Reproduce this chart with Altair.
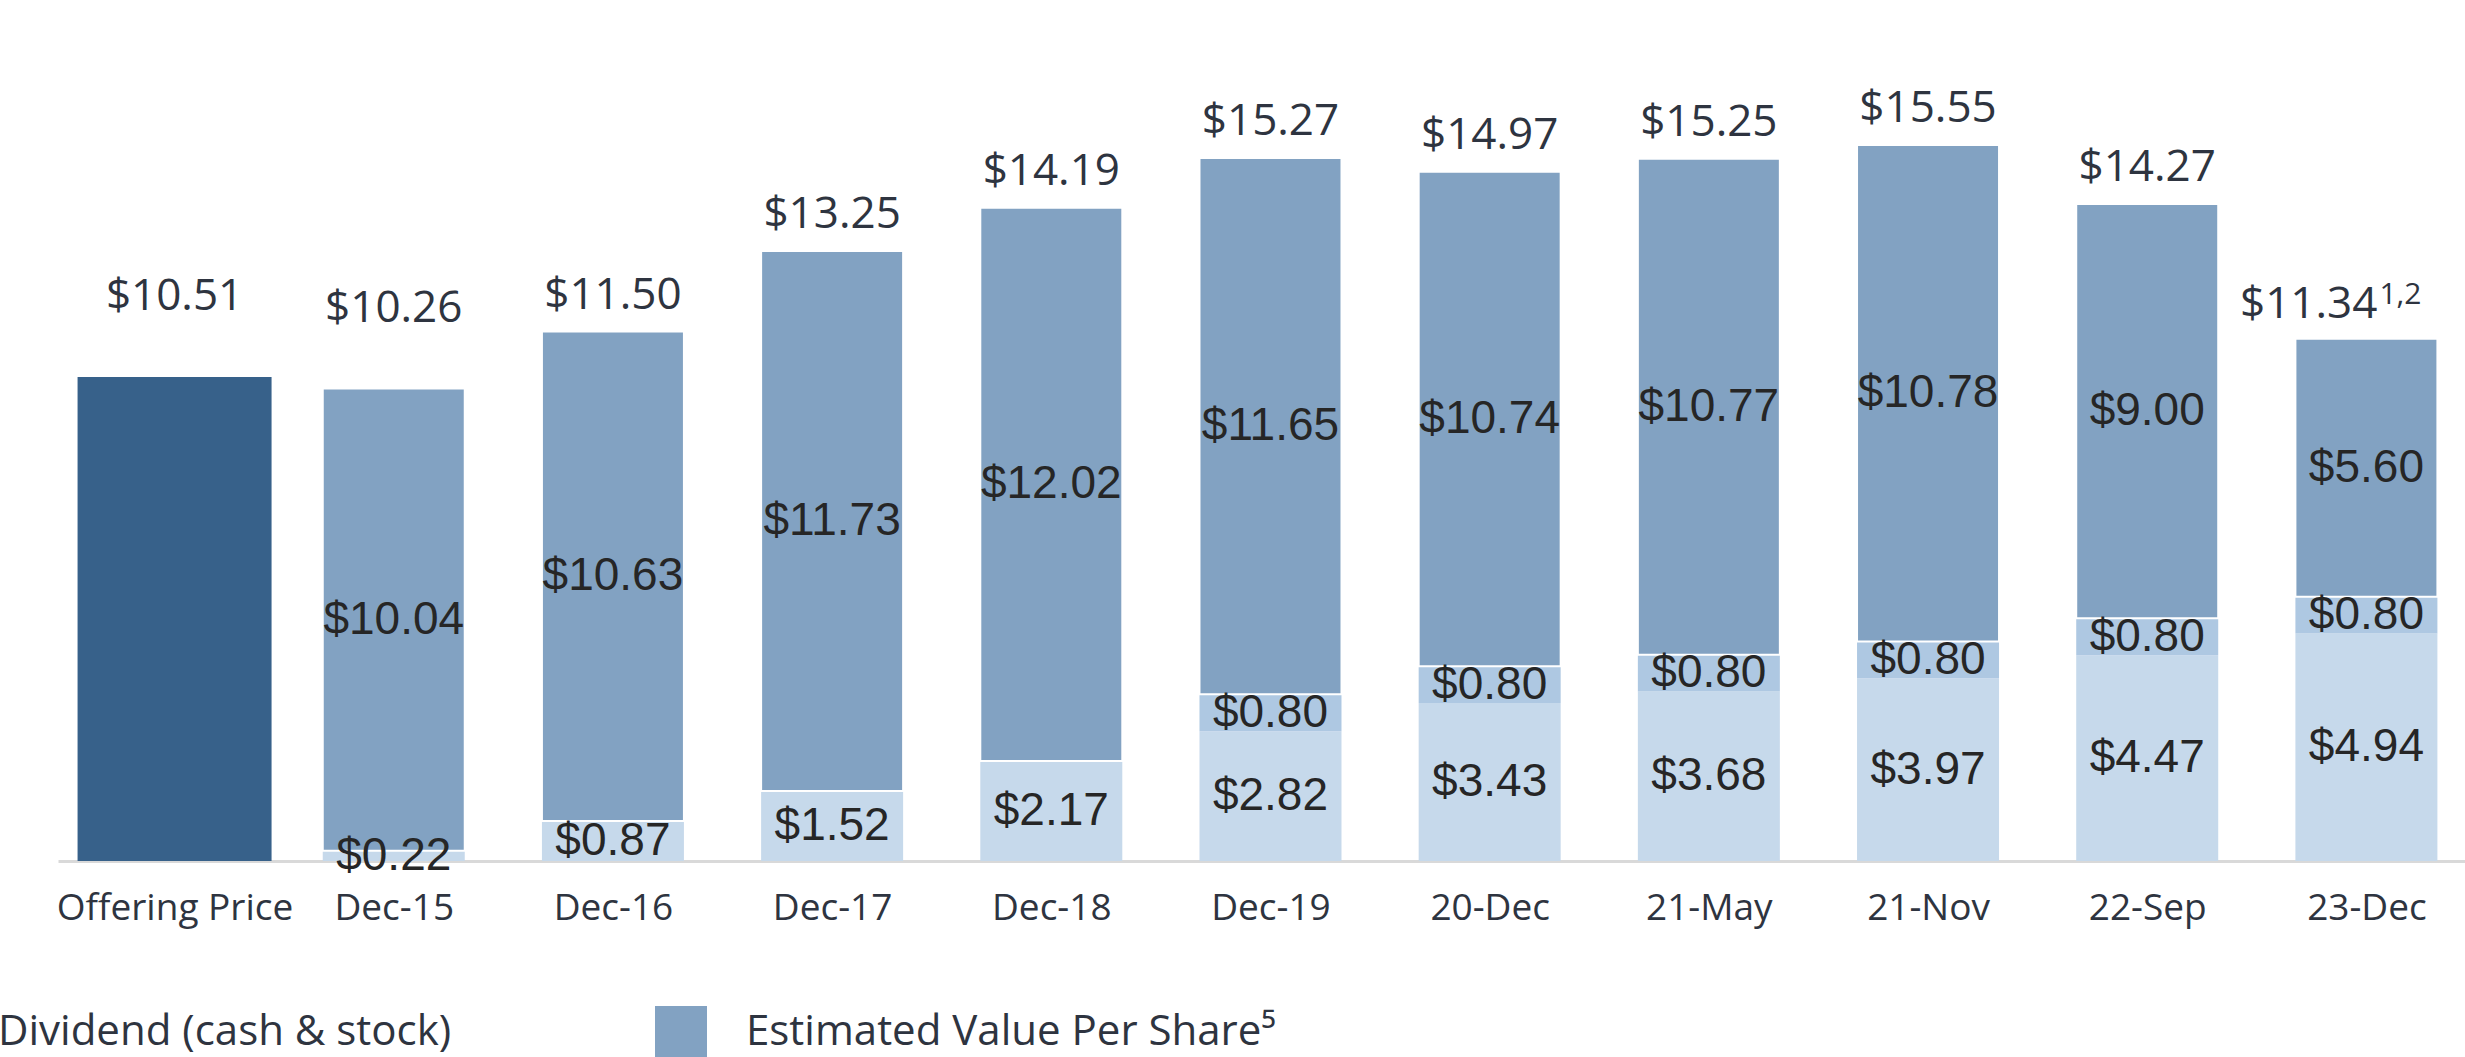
import altair as alt
import pandas as pd

categories = ["Offering Price", "Dec-15", "Dec-16", "Dec-17", "Dec-18", "Dec-19",
              "20-Dec", "21-May", "21-Nov", "22-Sep", "23-Dec"]
offering = [10.51, None, None, None, None, None, None, None, None, None, None]
dividend = [None, 0.22, 0.87, 1.52, 2.17, 2.82, 3.43, 3.68, 3.97, 4.47, 4.94]
special = [None, None, None, None, None, 0.80, 0.80, 0.80, 0.80, 0.80, 0.80]
estimated = [None, 10.04, 10.63, 11.73, 12.02, 11.65, 10.74, 10.77, 10.78, 9.00, 5.60]
totals = [10.51, 10.26, 11.50, 13.25, 14.19, 15.27, 14.97, 15.25, 15.55, 14.27, 11.34]
footnotes = ["", "", "", "", "", "", "", "", "", "", "1,2"]

S_OFF = "Offering Price"
S_DIV = "Dividend (cash & stock)"
S_SPC = "Distribution"
S_EV = "Estimated Value Per Share\u2075"

series_order = [(S_OFF, offering), (S_DIV, dividend), (S_SPC, special), (S_EV, estimated)]

rows = []
for i, cat in enumerate(categories):
    base = 0.0
    for name, vals in series_order:
        v = vals[i]
        if v is None:
            continue
        rows.append({"idx": i, "cat": cat, "series": name, "y0": base, "y1": base + v,
                     "mid": base + v / 2, "label": f"${v:.2f}"})
        base += v
seg = pd.DataFrame(rows)

tot = pd.DataFrame({"idx": list(range(len(categories))), "cat": categories,
                    "total": totals, "label": [f"${t:.2f}" for t in totals],
                    "foot": footnotes})
raised = ["Offering Price", "Dec-15"]
tot["raised"] = tot["cat"].isin(raised)
tot["hasfoot"] = tot["foot"] != ""

label_expr = "[" + ",".join("'" + c + "'" for c in categories) + "][datum.value]"

x_enc = alt.X("idx:Q",
              scale=alt.Scale(domain=[-0.509, 10.427], nice=False, zero=False),
              axis=alt.Axis(values=list(range(len(categories))), labelExpr=label_expr,
                            title=None, ticks=False, grid=False,
                            domainColor="#D9D9D9", domainWidth=3,
                            labelFont="Open Sans", labelFontSize=37,
                            labelColor="#2E3440", labelPadding=29,
                            labelLimit=1000,
                            labelOverlap=False, labelFlush=False))
y_scale = alt.Scale(domain=[0, 18.70], nice=False, zero=True)

color_enc = alt.Color("series:N",
                      scale=alt.Scale(domain=[S_OFF, S_DIV, S_SPC, S_EV],
                                      range=["#37618A", "#C6D9EB", "#AEC8E2", "#82A2C2"]),
                      legend=alt.Legend(title=None, orient="none", legendX=-151, legendY=1006,
                                        direction="horizontal", symbolType="square",
                                        symbolSize=2704, symbolStrokeWidth=0,
                                        symbolOpacity=1,
                                        labelFont="Open Sans", labelFontSize=42,
                                        labelColor="#2E3440", labelOffset=39,
                                        columnPadding=203, labelLimit=1000,
                                        values=[S_DIV, S_EV]))

base_seg = alt.Chart(seg)

bar_off = base_seg.transform_filter(alt.datum.series == S_OFF).mark_bar(width=194).encode(
    x=x_enc, y=alt.Y("y0:Q", scale=y_scale, axis=None), y2="y1:Q", color=color_enc)

bar_low = base_seg.transform_filter(
    (alt.datum.series == S_DIV) | (alt.datum.series == S_SPC)
).mark_bar(width=142).encode(
    x=x_enc, y=alt.Y("y0:Q", scale=y_scale, axis=None), y2="y1:Q", color=color_enc)

bar_ev = base_seg.transform_filter(alt.datum.series == S_EV).mark_bar(
    width=142, stroke="white", strokeWidth=2).encode(
    x=x_enc, y=alt.Y("y0:Q", scale=y_scale, axis=None), y2="y1:Q", color=color_enc)

seg_text = base_seg.transform_filter(alt.datum.series != S_OFF).mark_text(
    font="Liberation Sans", fontSize=46, color="#262626", baseline="middle", align="center"
).encode(x=x_enc, y=alt.Y("mid:Q", scale=y_scale, axis=None), text="label:N")

base_tot = alt.Chart(tot)
tot_text = base_tot.transform_filter(
    (alt.datum.raised == False) & (alt.datum.hasfoot == False)
).mark_text(font="Open Sans", fontSize=44, color="#2E3440", baseline="middle",
            align="center", dy=-36).encode(
    x=x_enc, y=alt.Y("total:Q", scale=y_scale, axis=None), text="label:N")

tot_raised = base_tot.transform_filter(alt.datum.raised == True).mark_text(
    font="Open Sans", fontSize=44, color="#2E3440", baseline="middle",
    align="center", dy=-80).encode(
    x=x_enc, y=alt.Y("total:Q", scale=y_scale, axis=None), text="label:N")

tot_foot_main = base_tot.transform_filter(alt.datum.hasfoot == True).mark_text(
    font="Open Sans", fontSize=44, color="#2E3440", baseline="middle",
    align="right", dx=11, dy=-34).encode(
    x=x_enc, y=alt.Y("total:Q", scale=y_scale, axis=None), text="label:N")

tot_foot_sup = base_tot.transform_filter(alt.datum.hasfoot == True).mark_text(
    font="Open Sans", fontSize=30, color="#2E3440", baseline="middle",
    align="left", dx=13, dy=-44).encode(
    x=x_enc, y=alt.Y("total:Q", scale=y_scale, axis=None), text="foot:N")

chart = alt.layer(bar_off, bar_low, bar_ev, seg_text, tot_text, tot_raised,
                  tot_foot_main, tot_foot_sup).properties(
    width=2407, height=861,
    autosize=alt.AutoSizeParams(type="none"),
    padding={"left": 58, "top": 0, "right": 0, "bottom": 196},
    background="white",
).configure_view(stroke=None)

chart.save("out.html", embed_options={"renderer": "svg", "actions": False})
